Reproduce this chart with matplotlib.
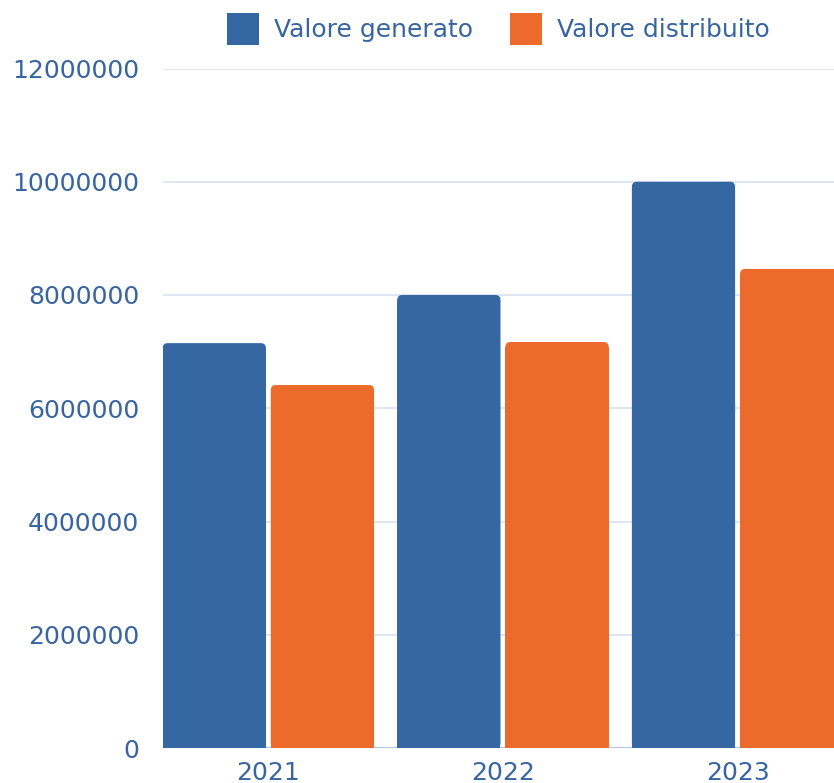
import matplotlib
matplotlib.use("Agg")
import matplotlib.pyplot as plt
from matplotlib.patches import FancyBboxPatch, Patch
import numpy as np

years = ["2021", "2022", "2023"]
valore_generato = [7150000, 8000000, 10000000]
valore_distribuito = [6410000, 7170000, 8460000]
y_ticks = [0, 2000000, 4000000, 6000000, 8000000, 10000000, 12000000]

BLUE = "#3567a3"
ORANGE = "#ec6a2b"
TEXT = "#3765a1"
GRID = "#d8e2ef"

plt.rcParams["font.family"] = ["DejaVu Sans"]

fig = plt.figure(figsize=(8.34, 7.83), dpi=100)
ax = fig.add_axes([163 / 834, 35 / 783, 671 / 834, 679.5 / 783])

x = np.arange(len(years))
width = 0.44
offset = 0.2305


def rounded_bars(xs, vals, color):
    bars = ax.bar(xs, vals, width=width, color=color, zorder=3, linewidth=0)
    rx = 5 / 234.6
    ry = 5 / 56.6 * 1e6
    for b in bars:
        x0, w, h = b.get_x(), b.get_width(), b.get_height()
        b.set_height(h - ry)
        ax.add_patch(FancyBboxPatch((x0, 0), w, h,
                                    boxstyle=f"round,pad=0,rounding_size={rx}",
                                    mutation_aspect=ry / rx,
                                    facecolor=color, linewidth=0, zorder=3))
    return bars


rounded_bars(x - offset, valore_generato, BLUE)
rounded_bars(x + offset, valore_distribuito, ORANGE)

ax.set_xlim(-0.449, 2.411)
ax.set_ylim(0, 12000000)
ax.set_yticks(y_ticks)
ax.set_yticklabels([str(v) for v in y_ticks])
ax.set_xticks(x)
ax.set_xticklabels(years)

ax.grid(axis="y", color=GRID, linewidth=1.2, zorder=0)
ax.axhline(0, color="#b7c7df", linewidth=1.5, zorder=2)
for s in ax.spines.values():
    s.set_visible(False)
ax.tick_params(axis="both", length=0, labelsize=18, labelcolor=TEXT)
ax.tick_params(axis="y", pad=17)
ax.tick_params(axis="x", pad=9)

handles = [Patch(facecolor=BLUE, label="Valore generato"),
           Patch(facecolor=ORANGE, label="Valore distribuito")]
fig.legend(handles=handles, loc="center", bbox_to_anchor=(498.5 / 834, 1 - 29 / 783),
           ncol=2, frameon=False, fontsize=18, labelcolor=TEXT,
           handlelength=1.28, handleheight=1.6, handletextpad=0.6,
           columnspacing=1.5, borderpad=0)

fig.savefig("out.png", dpi=100)
